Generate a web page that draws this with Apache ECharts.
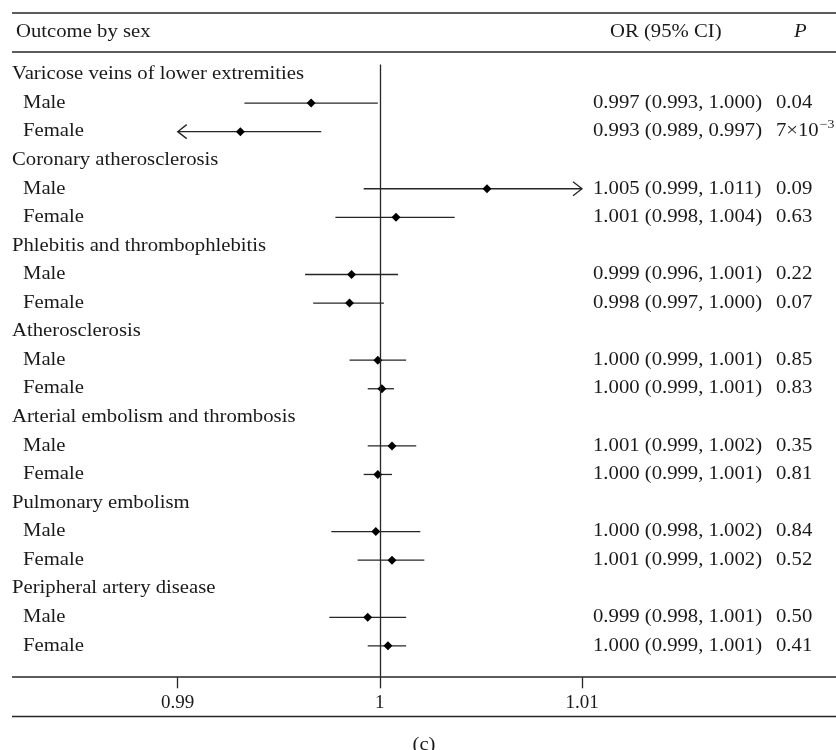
<!DOCTYPE html>
<html><head><meta charset="utf-8">
<script src="https://cdn.jsdelivr.net/npm/echarts@6/dist/echarts.min.js"></script>
<style>html,body{margin:0;padding:0;background:#fff}#c{width:836px;height:750px}</style>
</head><body><div id="c"></div>
<script>
// ---- data ----
const groups = [
  "Varicose veins of lower extremities",
  "Coronary atherosclerosis",
  "Phlebitis and thrombophlebitis",
  "Atherosclerosis",
  "Arterial embolism and thrombosis",
  "Pulmonary embolism",
  "Peripheral artery disease"
];
const sexes = ["Male", "Female"];
// rows: group0 Male, group0 Female, group1 Male, ...
const orEst  = [0.9966, 0.9931, 1.0053, 1.0008, 0.9986, 0.9985, 0.9999, 1.0001, 1.0006, 0.9999, 0.9998, 1.0006, 0.9994, 1.0004];
const ciLow  = [0.9933, 0.9890, 0.9992, 0.9978, 0.9963, 0.9967, 0.9985, 0.9994, 0.9994, 0.9992, 0.9976, 0.9989, 0.9975, 0.9994];
const ciHigh = [0.9999, 0.9971, 1.0110, 1.0037, 1.0009, 1.0002, 1.0013, 1.0007, 1.0018, 1.0006, 1.0020, 1.0022, 1.0013, 1.0013];
const orText = [
  "0.997 (0.993, 1.000)", "0.993 (0.989, 0.997)",
  "1.005 (0.999, 1.011)", "1.001 (0.998, 1.004)",
  "0.999 (0.996, 1.001)", "0.998 (0.997, 1.000)",
  "1.000 (0.999, 1.001)", "1.000 (0.999, 1.001)",
  "1.001 (0.999, 1.002)", "1.000 (0.999, 1.001)",
  "1.000 (0.998, 1.002)", "1.001 (0.999, 1.002)",
  "0.999 (0.998, 1.001)", "1.000 (0.999, 1.001)"
];
const pText = ["0.04", "7×10^−3", "0.09", "0.63", "0.22", "0.07", "0.85", "0.83", "0.35", "0.81", "0.84", "0.52", "0.50", "0.41"];
const xTicks = [0.99, 1, 1.01];
const xTickLabels = ["0.99", "1", "1.01"];
const headerText = ["Outcome by sex", "OR (95% CI)", "P"];
const panelLabel = "(c)";

// ---- layout / style ----
const FONT = "'Liberation Serif', 'Times New Roman', serif";
const FS = 18, SX = 1.15;
const TXT = '#1a1a1a', LINE = '#262626';
const XMIN = 0.99, XMAX = 1.01;

const slotOf = i => 3 * Math.floor(i / 2) + 1 + (i % 2);
const ciData = orEst.map((v, i) => [ciLow[i], ciHigh[i], v, slotOf(i)]);
const labelData = [];
groups.forEach((g, gi) => labelData.push([3 * gi, 0, gi]));
orEst.forEach((v, i) => labelData.push([slotOf(i), 1, i]));

function txt(text, x, y, extra) {
  return Object.assign({
    type: 'text', x: x, y: y, scaleX: SX,
    style: { text: text, fontFamily: FONT, fontSize: FS, fill: TXT, align: 'left', verticalAlign: 'middle' }
  }, extra || {});
}

const chart = echarts.init(document.getElementById('c'), null, { renderer: 'canvas' });
chart.setOption({
  animation: false,
  backgroundColor: '#fff',
  textStyle: { fontFamily: FONT },
  grid: { left: 177.7, right: 254, top: 64.5, bottom: 72.7, containLabel: false },
  xAxis: {
    type: 'value', min: XMIN, max: XMAX, interval: 0.01, position: 'bottom',
    axisLine: { show: false, onZero: false },
    axisTick: { show: true, length: 11, lineStyle: { color: LINE, width: 1.3 } },
    splitLine: { show: false },
    axisLabel: {
      margin: 16, fontSize: 19, color: TXT, fontFamily: FONT,
      formatter: v => { const k = xTicks.findIndex(t => Math.abs(t - v) < 1e-9); return k >= 0 ? xTickLabels[k] : ''; }
    }
  },
  yAxis: { type: 'value', inverse: true, min: -0.35, max: 21.1, show: false },
  graphic: [
    { type: 'line', shape: { x1: 12, y1: 13, x2: 836, y2: 13 }, style: { stroke: LINE, lineWidth: 1.5 } },
    { type: 'line', shape: { x1: 12, y1: 52, x2: 836, y2: 52 }, style: { stroke: LINE, lineWidth: 1.5 } },
    { type: 'line', shape: { x1: 12, y1: 677, x2: 836, y2: 677 }, style: { stroke: LINE, lineWidth: 1.5 } },
    { type: 'line', shape: { x1: 12, y1: 716.5, x2: 836, y2: 716.5 }, style: { stroke: LINE, lineWidth: 1.5 } },
    txt(headerText[0], 16, 32),
    txt(headerText[1], 610, 32),
    txt(headerText[2], 794, 32, { style: { text: headerText[2], fontFamily: FONT, fontSize: FS, fontStyle: 'italic', fill: TXT, align: 'left', verticalAlign: 'middle' } }),
    txt(panelLabel, 424, 745, { style: { text: panelLabel, fontFamily: FONT, fontSize: FS, fill: TXT, align: 'center', verticalAlign: 'middle' } })
  ],
  series: [
    {
      type: 'custom', name: 'CI', clip: false, silent: true,
      data: ciData,
      renderItem: function (params, api) {
        const lo = api.value(0), hi = api.value(1), est = api.value(2), slot = api.value(3);
        const p1 = api.coord([Math.max(lo, XMIN), slot]);
        const p2 = api.coord([Math.min(hi, XMAX), slot]);
        const pe = api.coord([est, slot]);
        const st = { stroke: LINE, lineWidth: 1.3, fill: null };
        const ch = [{ type: 'line', shape: { x1: p1[0], y1: p1[1], x2: p2[0], y2: p2[1] }, style: st }];
        if (lo < XMIN) ch.push({ type: 'polyline', shape: { points: [[p1[0] + 9, p1[1] - 7], [p1[0], p1[1]], [p1[0] + 9, p1[1] + 7]] }, style: st });
        if (hi > XMAX) ch.push({ type: 'polyline', shape: { points: [[p2[0] - 9, p2[1] - 7], [p2[0], p2[1]], [p2[0] - 9, p2[1] + 7]] }, style: st });
        const r = 4.5;
        ch.push({ type: 'polygon', shape: { points: [[pe[0] - r, pe[1]], [pe[0], pe[1] - r], [pe[0] + r, pe[1]], [pe[0], pe[1] + r]] }, style: { fill: '#000' } });
        return { type: 'group', children: ch };
      },
      markLine: {
        silent: true, symbol: 'none', label: { show: false },
        lineStyle: { color: LINE, type: 'solid', width: 1.3 },
        data: [{ xAxis: 1 }]
      }
    },
    {
      type: 'custom', name: 'labels', clip: false, silent: true,
      data: labelData,
      renderItem: function (params, api) {
        const slot = api.value(0), kind = api.value(1), idx = api.value(2);
        const y = api.coord([1, slot])[1];
        if (kind === 0) return txt(groups[idx], 12, y);
        const parts = pText[idx].split('^');
        const ch = [
          txt(sexes[idx % 2], 23, y),
          txt(orText[idx], 593, y),
          txt(parts[0], 776, y)
        ];
        if (parts[1]) {
          const ctx = document.createElement('canvas').getContext('2d');
          ctx.font = FS + 'px ' + FONT;
          const w = ctx.measureText(parts[0]).width * SX;
          ch.push(txt(parts[1], 776 + w + 1, y - 7, { style: { text: parts[1], fontFamily: FONT, fontSize: 12, fill: TXT, align: 'left', verticalAlign: 'middle' } }));
        }
        return { type: 'group', children: ch };
      }
    }
  ]
});
</script>
</body></html>
